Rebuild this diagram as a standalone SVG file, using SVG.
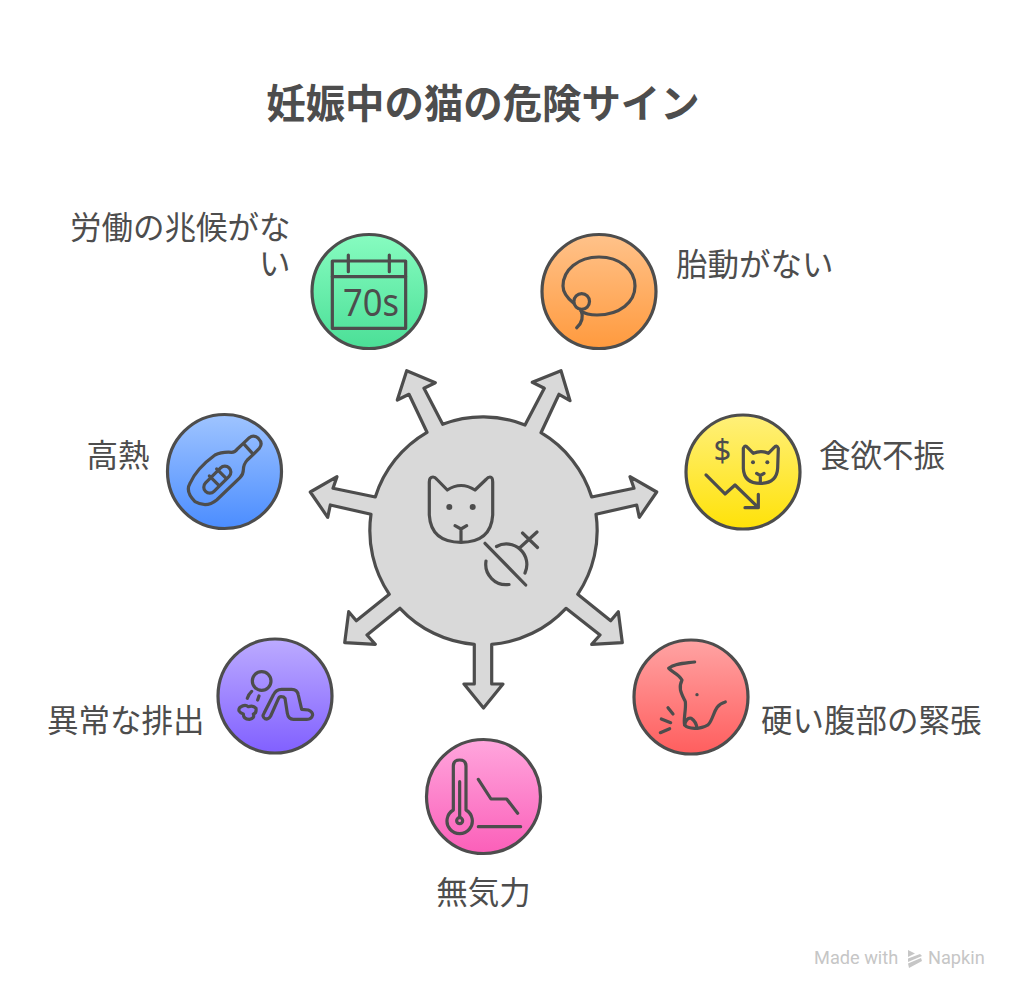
<svg xmlns="http://www.w3.org/2000/svg" width="1024" height="1003" viewBox="0 0 1024 1003">
<style>
text{font-family:"Noto Sans CJK JP","Noto Sans",sans-serif;fill:#4d4d4d}
.title{font-size:39.4px;font-weight:700;text-anchor:middle}
.label{font-size:31.5px;font-weight:400}
.end{text-anchor:end}
.mid{text-anchor:middle}
.node{stroke:#4d4d4d;stroke-width:3.2}
.ico{fill:none;stroke:#4d4d4d;stroke-width:9.6;stroke-linecap:round;stroke-linejoin:round}
.dot{fill:#4d4d4d;stroke:none}
.ct{fill:none;stroke:#4d4d4d;stroke-width:3.2;stroke-linecap:round;stroke-linejoin:round}
.brand{fill:#c6c6c6;font-family:Roboto,sans-serif;font-size:18.2px}
</style>
<defs>
<linearGradient id="gGreen" x1="0" y1="0" x2="0" y2="1"><stop offset="0" stop-color="#87fcc0"/><stop offset="1" stop-color="#4bdf97"/></linearGradient>
<linearGradient id="gOrange" x1="0" y1="0" x2="0" y2="1"><stop offset="0" stop-color="#ffc28a"/><stop offset="1" stop-color="#ff9a3e"/></linearGradient>
<linearGradient id="gBlue" x1="0" y1="0" x2="0" y2="1"><stop offset="0" stop-color="#9fc4ff"/><stop offset="1" stop-color="#4b8dff"/></linearGradient>
<linearGradient id="gYellow" x1="0" y1="0" x2="0" y2="1"><stop offset="0" stop-color="#fff07a"/><stop offset="1" stop-color="#ffe208"/></linearGradient>
<linearGradient id="gRed" x1="0" y1="0" x2="0" y2="1"><stop offset="0" stop-color="#ffa3a3"/><stop offset="1" stop-color="#ff5e5e"/></linearGradient>
<linearGradient id="gPink" x1="0" y1="0" x2="0" y2="1"><stop offset="0" stop-color="#ffa6dd"/><stop offset="1" stop-color="#fb5fb9"/></linearGradient>
<linearGradient id="gPurple" x1="0" y1="0" x2="0" y2="1"><stop offset="0" stop-color="#bcabff"/><stop offset="1" stop-color="#8160ff"/></linearGradient>
</defs>
<rect width="1024" height="1003" fill="#fff"/>
<text class="title" x="483" y="118">妊娠中の猫の危険サイン</text>

<g id="connectors">
<path fill="#d9d9d9" stroke="#4d4d4d" stroke-width="3.2" stroke-linejoin="round" d="M442.7,424.3 A114,114 0 0 1 525,425 L544.3,388.3 L532.3,382.3 L561,370.7 L570,400.7 L559,394.3 L541,432.7 A114,114 0 0 1 591.7,497 L634,488.3 L630,476.7 L656.7,492 L639.3,517.3 L636.7,505 L596,514.3 A114,114 0 0 1 577.7,594.3 L610.7,620.7 L618.3,611.7 L622.3,642.7 L591.7,644.3 L600,635 L566,608.3 A114,114 0 0 1 491.7,644.3 L491.7,684 L503,684 L483.5,708 L464,684 L474.3,684 L474.3,644.3 A114,114 0 0 1 400,608.3 L367,635 L375.3,644.3 L344.7,642.7 L348.7,611.7 L356.3,620.7 L389.3,594.3 A114,114 0 0 1 371,514.3 L330.3,505 L327.7,517.3 L310.3,492 L337,476.7 L333,488.3 L375.3,497 A114,114 0 0 1 427,432.3 L409,394.3 L397.3,400 L406.7,370.7 L435.3,382.7 L424,388.3 Z"/>
</g>

<g id="center">
<path class="ct" d="M429.3,482 Q429.3,477 433,477 Q435,477 437,479.5 L447.3,490 Q461,481 475,490 L486,479.5 Q488,477 490,477 Q492.7,477 492.7,482 L492.7,515 Q491,542.3 461,542.3 Q431,542.3 429.3,515 Z"/>
<circle class="dot" cx="449.3" cy="507" r="3"/><circle class="dot" cx="472.7" cy="507" r="3"/>
<path class="ct" d="M455,525.7 L461,529 L466.7,525.7 M461,529 L461,541"/>
<path class="ct" d="M485,543.3 L525.7,585 M486,561 A20.5,20.5 0 0 0 509,584.5 M496.5,546.5 A20.5,20.5 0 0 1 525,573 M519.5,548 L537,532 M522.5,533 L537.5,547.5"/>
</g>

<g id="node-labor">
<circle class="node" cx="369" cy="291.5" r="57" fill="url(#gGreen)"/>
<g class="ico" transform="translate(300 225) scale(.3333)">
<rect x="97" y="108" width="220" height="202"/><path d="M97,155 H317 M145,90 V140 M268,90 V140"/>
</g>
<text x="343" y="316" font-size="38" textLength="56" lengthAdjust="spacingAndGlyphs" style='font-family:"Noto Sans",sans-serif;font-weight:400'>70s</text>
<text class="label end"><tspan x="290.5" y="239">労働の兆候がな</tspan><tspan x="290.5" y="275">い</tspan></text>
</g>

<g id="node-movement">
<circle class="node" cx="599" cy="291.5" r="57" fill="url(#gOrange)"/>
<path class="ct" d="M573.5,303 C566,297 563,292 563,286 C563,270 578,257 599,257 C620,257 635,270 635,286 C635,302 620,315 597,315 C590,315 585,314 581,311"/>
<circle class="ct" cx="581.7" cy="301.5" r="7.8"/>
<path class="ct" d="M581,310 C584,318 582,323 576.7,327.7"/>
<text class="label" x="676" y="276">胎動がない</text>
</g>

<g id="node-fever">
<circle class="node" cx="224.5" cy="471.5" r="57" fill="url(#gBlue)"/>
<g class="ico" transform="translate(160 405) scale(.3333)">
<path d="M250,115 L268,98 Q281,88 295,100 Q310,115 298,130 L280,148 L262,165 Q250,178 250,195 Q250,208 240,218 L170,285 Q140,310 105,290 Q75,260 90,235 Q110,190 165,150 Q185,140 215,142 Q225,142 232,132 Z M250,115 L280,148"/>
<rect x="122" y="206" width="100" height="36" rx="18" transform="rotate(-45 172 224)"/>
<path d="M148,213 L175,240 M170,192 L197,219"/>
</g>
<text class="label end" x="149.5" y="467">高熱</text>
</g>

<g id="node-appetite">
<circle class="node" cx="743" cy="472" r="57" fill="url(#gYellow)"/>
<g class="ico" transform="translate(680 405) scale(.3333)">
<path d="M190,130 L190,190 Q192,235 241,235 Q290,235 293,190 L295,130 Q290,118 282,128 L265,145 Q243,135 220,145 L203,128 Q195,118 190,130 Z M230,205 L241,212 L252,205 M241,212 L241,233"/>
<path d="M78,210 L135,267 L165,240 L235,308 M235,268 L235,308 L195,308"/>
<circle class="dot" cx="219" cy="172" r="6"/><circle class="dot" cx="262" cy="172" r="6"/>
</g>
<text x="722.3" y="461" font-size="31" text-anchor="middle" style='font-family:"Noto Sans",sans-serif;font-weight:400'>$</text>
<text class="label" x="819" y="467">食欲不振</text>
</g>

<g id="node-abdomen">
<circle class="node" cx="691" cy="697" r="57" fill="url(#gRed)"/>
<g class="ico" transform="translate(628 630) scale(.3333)">
<path d="M200,96 C170,100 140,100 122,115 C130,125 150,130 162,150 C150,175 160,190 172,215 C175,240 165,270 170,285 C180,297 215,300 240,285 C260,265 255,225 292,216"/>
<path d="M170,285 Q175,262 190,265 Q205,275 207,295 M120,233 L135,252 M100,267 L128,278 M97,308 L125,296"/>
<circle class="dot" cx="207" cy="194" r="5"/>
</g>
<text class="label" x="761" y="732">硬い腹部の緊張</text>
</g>

<g id="node-lethargy">
<circle class="node" cx="483.5" cy="796.5" r="57" fill="url(#gPink)"/>
<g class="ico" transform="translate(420 730) scale(.3333)">
<path d="M100,240 L100,108 Q100,90 119,90 Q138,90 138,108 L138,240 A38,38 0 1 1 100,240 Z M119,155 L119,262"/>
<circle cx="119" cy="272" r="9"/>
<path d="M175,148 L213,207 L260,207 L293,250 M175,290 L302,290"/>
</g>
<text class="label mid" x="483.5" y="904">無気力</text>
</g>

<g id="node-discharge">
<circle class="node" cx="275" cy="696" r="57" fill="url(#gPurple)"/>
<g class="ico" transform="translate(210 630) scale(.3333)">
<circle cx="155" cy="153" r="28"/>
<path d="M162,250 L190,195 Q197,178 215,178 L245,178 Q262,178 265,195 L275,238 L295,240 Q308,245 308,255 Q305,268 290,268 L250,268 Q235,268 232,250 L225,205 Q222,200 213,200 Q208,200 205,207 L182,258 Q175,270 165,266 Q155,260 162,250 Z"/>
<path d="M90,232 Q105,222 115,230 Q130,225 138,235 Q140,250 130,252 Q135,265 118,268 Q100,268 100,252 Q80,245 90,232 Z M112,205 Q116,192 125,184 M147,198 L143,210"/>
</g>
<text class="label end" x="204.5" y="732">異常な排出</text>
</g>

<g id="brand">
<text class="brand" x="814" y="964">Made with</text>
<path fill="#c6c6c6" d="M908,950 L915,953.5 L908,957 Z M908,958.5 L920,954 L922,956 L908,962 Z M908,963.5 L921,958 L922,961 L909,968 Z"/>
<text class="brand" x="928" y="964">Napkin</text>
</g>
</svg>
